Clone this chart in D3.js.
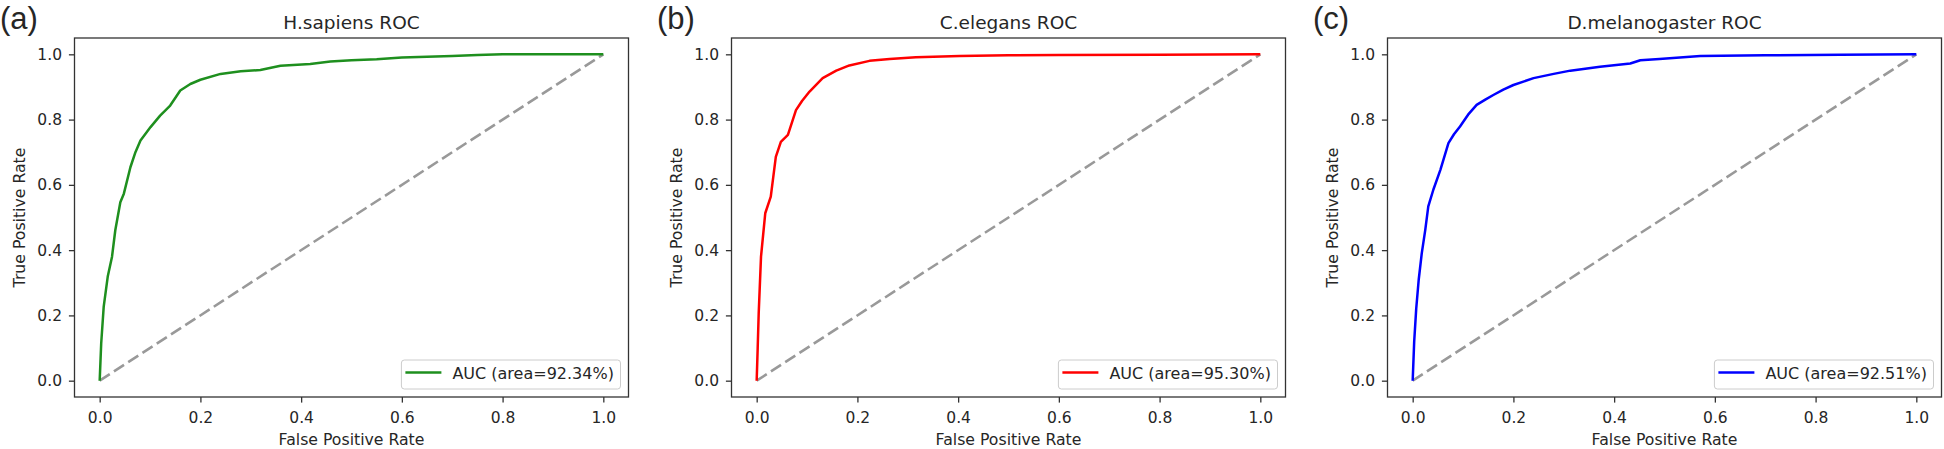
<!DOCTYPE html>
<html>
<head>
<meta charset="utf-8">
<script src="https://cdn.jsdelivr.net/npm/d3@7"></script>
<style>
body { margin: 0; background: #fff; }
text { font-family: "DejaVu Sans", sans-serif; fill: #262626; }
</style>
</head>
<body>
<script>
/* three ROC panels */

var tickValues = [0, 0.2, 0.4, 0.6, 0.8, 1.0];
var titles = ["H.sapiens ROC", "C.elegans ROC", "D.melanogaster ROC"];
var panelLabels = ["(a)", "(b)", "(c)"];
var aucLabels = ["AUC (area=92.34%)", "AUC (area=95.30%)", "AUC (area=92.51%)"];
var chanceFpr = [0, 1];
var chanceTpr = [0, 1];

// H.sapiens
var hsFpr = [0, 0.003, 0.008, 0.016, 0.0245, 0.031, 0.041, 0.048, 0.061, 0.071, 0.081, 0.101, 0.12, 0.14, 0.15, 0.16, 0.18, 0.2, 0.24, 0.28, 0.319, 0.359, 0.418, 0.458, 0.5, 0.55, 0.6, 0.7, 0.75, 0.8, 0.9, 1.0];
var hsTpr = [0, 0.114, 0.227, 0.319, 0.38, 0.461, 0.547, 0.573, 0.654, 0.7, 0.736, 0.777, 0.812, 0.843, 0.866, 0.889, 0.909, 0.922, 0.94, 0.948, 0.952, 0.965, 0.97, 0.978, 0.982, 0.985, 0.99, 0.995, 0.998, 1.0, 1.0, 1.0];

// C.elegans
var ceFpr = [0, 0.002, 0.004, 0.0086, 0.017, 0.028, 0.038, 0.048, 0.062, 0.078, 0.09, 0.105, 0.131, 0.158, 0.184, 0.224, 0.264, 0.316, 0.403, 0.5, 0.6, 0.8, 1.0];
var ceTpr = [0, 0.1, 0.206, 0.38, 0.513, 0.564, 0.686, 0.732, 0.753, 0.829, 0.857, 0.886, 0.927, 0.95, 0.966, 0.98, 0.986, 0.991, 0.995, 0.997, 0.998, 0.999, 1.0];

// D.melanogaster
var dmFpr = [0, 0.003, 0.007, 0.012, 0.018, 0.025, 0.031, 0.041, 0.055, 0.071, 0.082, 0.094, 0.11, 0.127, 0.145, 0.161, 0.18, 0.2, 0.24, 0.28, 0.313, 0.372, 0.432, 0.452, 0.49, 0.571, 0.7, 0.85, 1.0];
var dmTpr = [0, 0.12, 0.22, 0.31, 0.39, 0.462, 0.534, 0.585, 0.646, 0.728, 0.755, 0.779, 0.815, 0.845, 0.862, 0.876, 0.892, 0.906, 0.927, 0.94, 0.95, 0.962, 0.972, 0.982, 0.986, 0.995, 0.997, 0.999, 1.0];

window.onload = function(){

    var w = 1944, h = 449; //svg size
    var pw = 554, ph = 359; //axes box size
    var lefts = [74.5, 731.5, 1387.5], top = 38; //axes box positions
    var colors = ["#1e8f1e", "#ff0000", "#0000ff"];
    var curves = [[hsFpr, hsTpr], [ceFpr, ceTpr], [dmFpr, dmTpr]];

    var svg = d3.select("body")
        .append("svg")
        .attr("width", w)
        .attr("height", h);

    var x = d3.scaleLinear().domain([-0.05, 1.05]).range([0, pw]);
    var y = d3.scaleLinear().domain([-0.05, 1.05]).range([ph, 0]);

    var line = d3.line()
        .x(function(d){ return x(d[0]); })
        .y(function(d){ return y(d[1]); });

    curves.forEach(function(c, i){

        var g = svg.append("g")
            .attr("transform", "translate(" + lefts[i] + "," + top + ")");

        //chance diagonal
        g.append("path")
            .datum(d3.zip(chanceFpr, chanceTpr))
            .attr("d", line)
            .attr("fill", "none")
            .attr("stroke", "#999")
            .attr("stroke-width", 2.6)
            .attr("stroke-dasharray", "12,5");

        //roc curve
        g.append("path")
            .datum(d3.zip(c[0], c[1]))
            .attr("d", line)
            .attr("fill", "none")
            .attr("stroke", colors[i])
            .attr("stroke-width", 2.5)
            .attr("stroke-linejoin", "round");

        //axes
        var xAxis = g.append("g")
            .attr("transform", "translate(0," + ph + ")")
            .call(d3.axisBottom(x).tickValues(tickValues).tickFormat(d3.format(".1f")).tickSize(5.6).tickPadding(9));
        var yAxis = g.append("g")
            .call(d3.axisLeft(y).tickValues(tickValues).tickFormat(d3.format(".1f")).tickSize(5.6).tickPadding(6.9));

        [xAxis, yAxis].forEach(function(a){
            a.select(".domain").remove();
            a.selectAll("line").attr("stroke", "#333").attr("stroke-width", 1.3);
            a.selectAll("text")
                .attr("fill", "#262626")
                .style("font-family", "DejaVu Sans")
                .style("font-size", "15.5px");
        });

        //spines
        g.append("rect")
            .attr("width", pw)
            .attr("height", ph)
            .attr("fill", "none")
            .attr("stroke", "#333")
            .attr("stroke-width", 1.3);

        //legend
        var lg = g.append("g");
        var box = lg.append("rect")
            .attr("rx", 3)
            .attr("fill", "#fff")
            .attr("fill-opacity", 0.8)
            .attr("stroke", "#ccc")
            .attr("stroke-width", 1);
        var lt = lg.append("text")
            .attr("font-size", "16px")
            .text(aucLabels[i]);
        var tw = lt.node().getComputedTextLength();
        var bw = 6.4 + 32 + 12.8 + tw + 6.4, bh = 29;
        var bx = pw - 8 - bw, by = ph - 8 - bh;
        box.attr("x", bx).attr("y", by).attr("width", bw).attr("height", bh);
        lg.append("line")
            .attr("x1", bx + 4).attr("x2", bx + 40)
            .attr("y1", by + 12.5).attr("y2", by + 12.5)
            .attr("stroke", colors[i])
            .attr("stroke-width", 2.5);
        lt.attr("x", bx + 51).attr("y", by + 19);

        //titles and labels
        g.append("text")
            .attr("x", pw / 2)
            .attr("y", 29 - top)
            .attr("text-anchor", "middle")
            .attr("font-size", "18.5px")
            .text(titles[i]);

        g.append("text")
            .attr("x", pw / 2)
            .attr("y", 445 - top)
            .attr("text-anchor", "middle")
            .attr("font-size", "15.7px")
            .text("False Positive Rate");

        g.append("text")
            .attr("transform", "translate(" + (24.5 - 74.5) + "," + (ph / 2) + ") rotate(-90)")
            .attr("text-anchor", "middle")
            .attr("font-size", "15.7px")
            .text("True Positive Rate");

        svg.append("text")
            .attr("x", lefts[i] - 74.5)
            .attr("y", 29)
            .style("font-family", "'Liberation Sans', Arial, sans-serif")
            .attr("font-size", "31px")
            .attr("fill", "#000")
            .text(panelLabels[i]);
    });
}
</script>
</body>
</html>
